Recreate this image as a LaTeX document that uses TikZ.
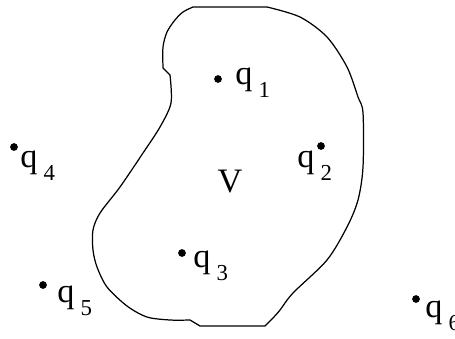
\documentclass[tikz,border=0pt]{standalone}
\usepackage{fontspec}
\setmainfont{Liberation Serif}
\usetikzlibrary{positioning}

\newcommand{\qsub}[1]{q\kern3.5pt\raisebox{-7.5pt}{\fontsize{13}{13}\selectfont #1}}

\begin{document}
\begin{tikzpicture}[x=0.02cm, y=-0.02cm,
  pt/.style={circle, fill, inner sep=0pt, minimum size=4.4pt},
  lab/.style={anchor=base west, inner sep=0pt, font=\fontsize{19.5}{22}\selectfont},
  contour/.style={line width=0.7pt}
]
\useasboundingbox (0,0) rectangle (455,338);

% region V
\draw[contour] plot[smooth, tension=0.5] coordinates {(170,75) (171,103) (160,127) (143,153) (120,187) (100,213) (93,230) (93,250) (97,267) (107,287) (127,306) (147,317) (170,320) (190,320)}
  -- (200,326) -- (265,326)
  -- plot[smooth, tension=0.5] coordinates {(265,326) (273,318) (280,310) (293,293) (327,260) (347,227) (358,200) (363,167) (363,113) (358,97) (347,67) (327,37) (300,17) (267,7)}
  -- (193,7)
  -- plot[smooth, tension=0.5] coordinates {(193,7) (183,12) (175,20) (167,32) (163,47) (163,68)}
  -- (166,71) -- cycle;

\node[lab, anchor=base] (v) at (230,192) {V};

% sites
\node[pt] (q1) at (218,79) {};
\node[pt] (q2) at (321,146) {};
\node[pt] (q3) at (182,253) {};
\node[pt] (q4) at (14,147) {};
\node[pt] (q5) at (43,285) {};
\node[pt] (q6) at (416,299) {};

\node[lab] (l1) at (235,84) {\qsub{1}};
\node[lab] (l2) at (297,167) {\qsub{2}};
\node[lab] (l3) at (193,267) {\qsub{3}};
\node[lab] (l4) at (20,167) {\qsub{4}};
\node[lab] (l5) at (57,302) {\qsub{5}};
\node[lab] (l6) at (425,317) {\qsub{6}};
\end{tikzpicture}
\end{document}
